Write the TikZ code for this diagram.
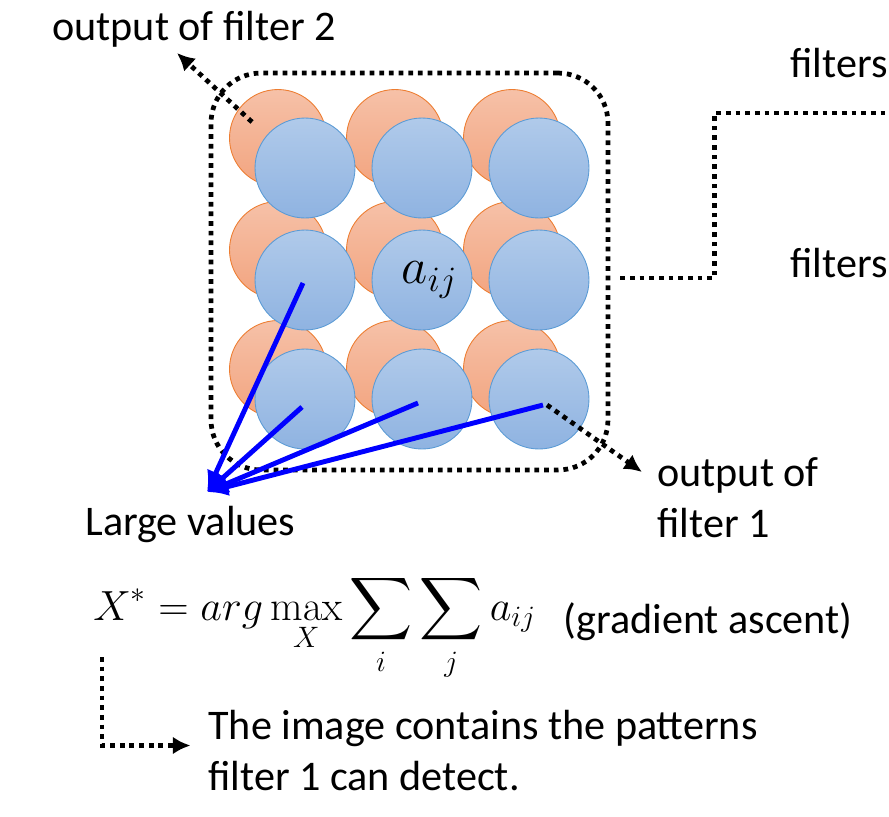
\RequirePackage{fix-cm}
\documentclass[tikz,border=0pt]{standalone}
\usepackage{amsmath}
\usepackage[no-math]{fontspec}
\setmainfont{Carlito}
\usepackage{tikz}
\tikzset{>=latex}
\usetikzlibrary{arrows.meta,positioning}
\definecolor{orngedge}{HTML}{ED7D31}
\definecolor{orngtop}{HTML}{F6C1A8}
\definecolor{orngbot}{HTML}{F2A47F}
\definecolor{bluedge}{HTML}{5B9BD5}
\definecolor{blutop}{HTML}{B0CAEA}
\definecolor{blubot}{HTML}{8FB3E1}

\begin{document}
\begin{tikzpicture}[x=0.02cm,y=-0.02cm,
    every node/.style={font=\fontsize{24}{28.5}\selectfont},
    orng/.style={circle,minimum size=1.94cm,inner sep=0pt,draw=orngedge,line width=0.5pt,top color=orngtop,bottom color=orngbot},
    blu/.style={circle,minimum size=2cm,inner sep=0pt,draw=bluedge,line width=0.5pt,top color=blutop,bottom color=blubot},
    dotln/.style={line width=2.7pt,dash pattern=on 2.7pt off 2.8pt},
    dotarr/.style={dotln,-{Latex[length=10pt,width=10pt]}},
    blueln/.style={blue,line width=2.8pt,-{Latex[length=12pt,width=11pt]}},
    txt/.style={anchor=base west,inner sep=0pt}]
    \useasboundingbox (0,0) rectangle (889,816);

    % filter 2 (behind), then filter 1
    \foreach \cx [count=\i] in {305,422,539}
        \foreach \cy [count=\j] in {168,280,399}
            \node[orng] (o\j\i) at (\cx-27,\cy-30) {};
    \foreach \cx [count=\i] in {305,422,539}
        \foreach \cy [count=\j] in {168,280,399}
            \node[blu] (b\j\i) at (\cx,\cy) {};
    \node[font=\fontsize{29}{34}\selectfont] at ([xshift=0.15cm]b22.center) (aij) {$a_{ij}$};

    \node[draw,dotln,rounded corners=1cm,minimum width=7.94cm,minimum height=7.94cm,inner sep=0pt] (grp) at (409.5,271.5) {};

    % filters on the right
    \node[txt] (flt1) at (790,77) {filters};
    \node[txt] (flt2) at (790,277) {filters};
    \coordinate (fe) at (889,113);
    \draw[dotln] ([xshift=0.2cm,yshift=-0.13cm]grp.east) -- ++(94,0) |- (fe);

    % large values
    \coordinate (lv) at (207,492);
    \foreach \b/\dx/\dy in {b21/-2/3,b31/-3/8,b32/-4/4,b33/4/6}
        \draw[blueln] ([shift={(\dx,\dy)}]\b.center) -- (lv);
    \node[txt] (lg) at (85,535) {Large values};

    % outputs
    \node[txt] (of2) at (52,40) {output of filter 2};
    \coordinate (t2) at (177,53);
    \draw[dotarr] ([shift={(-26,-16)}]o11.center) -- (t2);
    \node[txt,align=left] (of1) at (657,537) {output of\\filter 1};
    \coordinate (t1) at (642,472);
    \draw[dotarr] ([shift={(8,6)}]b33.center) -- (t1);

    % formula
    \node[txt] (fm) at (93,620) {$\displaystyle X^{*}=arg\max_{X}\sum_{i}\sum_{j}a_{ij}$};
    \node[txt] (ga) at (563,633) {(gradient ascent)};
    \coordinate (xs) at (102,657);
    \node[txt,align=left] (img) at (208,790) {The image contains the patterns\\filter 1 can detect.};
    \draw[dotarr] (xs) |- ([xshift=-0.35cm,yshift=0.1cm]img.west);
\end{tikzpicture}
\end{document}
